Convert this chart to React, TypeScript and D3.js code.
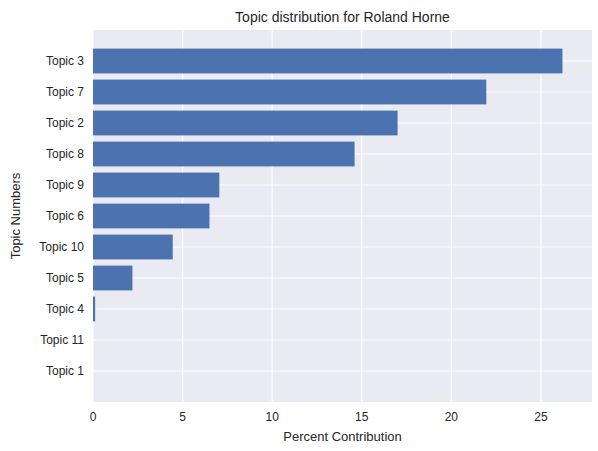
import * as d3 from "d3";

const topics = ["Topic 1", "Topic 11", "Topic 4", "Topic 5", "Topic 10", "Topic 6", "Topic 9", "Topic 8", "Topic 2", "Topic 7", "Topic 3"];
const values = [0, 0, 0.12, 2.2, 4.45, 6.5, 7.05, 14.6, 17.0, 21.95, 26.2];
const xTicks = [0, 5, 10, 15, 20, 25];

const W = 598;
const H = 451;
const M = { top: 30, right: 6, bottom: 49, left: 93 };

export default function App() {
  const x = d3.scaleLinear().domain([0, 27.85]).range([M.left, W - M.right]);
  const y = d3.scaleLinear().domain([-1, 11]).range([H - M.bottom, M.top]);
  const barH = (y(0) - y(1)) * 0.8;
  const font = "'Liberation Sans', Arial, sans-serif";

  return (
    <svg width={W} height={H} style={{ position: "absolute", left: 0, top: 0, fontFamily: font }}>
      <rect width={W} height={H} fill="#fff" />
      <rect x={M.left} y={M.top} width={W - M.left - M.right} height={H - M.top - M.bottom} fill="#EAEAF2" />
      {xTicks.map((t) => (
        <line key={t} x1={x(t)} x2={x(t)} y1={M.top} y2={H - M.bottom} stroke="#fff" strokeWidth={1.2} />
      ))}
      {topics.map((t, i) => (
        <line key={t} x1={M.left} x2={W - M.right} y1={y(i)} y2={y(i)} stroke="#fff" strokeWidth={1.2} />
      ))}
      {topics.map((t, i) => (
        <rect key={t} x={x(0)} y={y(i) - barH / 2} width={x(values[i]) - x(0)} height={barH} fill="#4C72B0" />
      ))}
      {topics.map((t, i) => (
        <text key={t} x={M.left - 9} y={y(i)} dy="0.35em" textAnchor="end" fontSize={12} fill="#262626">{t}</text>
      ))}
      {xTicks.map((t) => (
        <text key={t} x={x(t)} y={H - M.bottom + 19} textAnchor="middle" fontSize={12} fill="#262626">{t}</text>
      ))}
      <text x={(M.left + W - M.right) / 2} y={H - 10} textAnchor="middle" fontSize={13} fill="#262626">Percent Contribution</text>
      <text transform={`translate(20,${(M.top + H - M.bottom) / 2}) rotate(-90)`} textAnchor="middle" fontSize={13} fill="#262626">Topic Numbers</text>
      <text x={(M.left + W - M.right) / 2} y={M.top - 8} textAnchor="middle" fontSize={14} fill="#262626">Topic distribution for Roland Horne</text>
    </svg>
  );
}
